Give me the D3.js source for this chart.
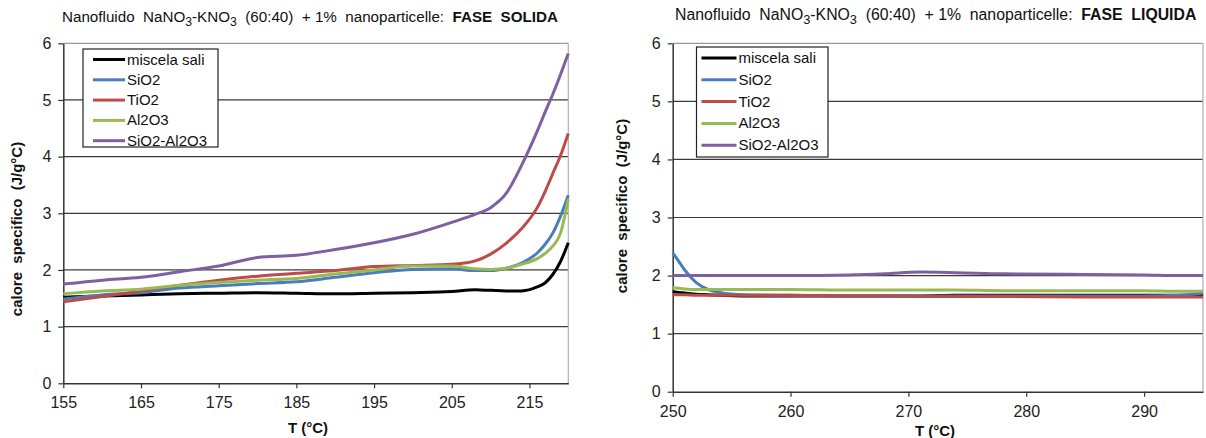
<!DOCTYPE html>
<html>
<head>
<meta charset="utf-8">
<script src="https://cdn.jsdelivr.net/npm/d3@7"></script>
<style>
	body{margin:0;background:#fff;}
	text{font-family:Arial,"Liberation Sans",sans-serif;}
</style>
</head>
<body>
<div id="fig"></div>
<script>
// series names and colours
var names = ["miscela sali","SiO2","TiO2","Al2O3","SiO2-Al2O3"];
var colors = ["#000000","#4a7ebb","#be4b48","#98b954","#7d60a0"];

// solid phase
var T_sol = [155,160,165,170,175,180,185,190,195,200,205,208,210,212,214,216,217,218,219,220];
var sol_sali  = [1.52,1.54,1.56,1.58,1.59,1.60,1.59,1.58,1.59,1.60,1.62,1.65,1.64,1.63,1.63,1.70,1.77,1.92,2.15,2.48];
var sol_SiO2  = [1.49,1.56,1.60,1.68,1.72,1.76,1.79,1.87,1.95,2.01,2.02,1.99,1.99,2.03,2.12,2.30,2.45,2.65,2.95,3.32];
var sol_TiO2  = [1.44,1.53,1.63,1.73,1.82,1.89,1.94,1.99,2.06,2.08,2.10,2.16,2.28,2.47,2.73,3.10,3.38,3.70,4.02,4.41];
var sol_Al2O3 = [1.58,1.63,1.66,1.73,1.78,1.82,1.85,1.93,2.00,2.07,2.07,2.02,2.01,2.03,2.10,2.20,2.29,2.42,2.65,3.25];
var sol_mix   = [1.75,1.82,1.87,1.97,2.07,2.22,2.26,2.36,2.48,2.63,2.84,2.98,3.10,3.35,3.85,4.45,4.78,5.10,5.45,5.82];

// liquid phase
var T_liq = [250,250.5,251,252,253,254,256,260,265,268,271,274,278,285,290,293,295];
var liq_sali  = [1.72,1.71,1.70,1.68,1.67,1.66,1.65,1.65,1.65,1.65,1.65,1.66,1.66,1.66,1.66,1.66,1.67];
var liq_SiO2  = [2.39,2.25,2.10,1.88,1.76,1.71,1.67,1.66,1.65,1.65,1.65,1.65,1.65,1.65,1.65,1.66,1.70];
var liq_TiO2  = [1.67,1.67,1.67,1.66,1.66,1.66,1.66,1.66,1.65,1.65,1.64,1.64,1.64,1.63,1.63,1.63,1.63];
var liq_Al2O3 = [1.79,1.78,1.77,1.76,1.76,1.76,1.76,1.76,1.75,1.75,1.75,1.75,1.74,1.74,1.74,1.73,1.73];
var liq_mix   = [2.00,2.00,2.00,2.00,2.00,2.00,2.00,2.00,2.01,2.03,2.06,2.05,2.03,2.02,2.01,2.00,2.00];

var yTicks = [0,1,2,3,4,5,6];
var xTicks_sol = [155,165,175,185,195,205,215];
var xTicks_liq = [250,260,270,280,290];

const W = 1206, H = 438;

const svg = d3.select("#fig").append("svg")
	.attr("width",W).attr("height",H)
	.attr("viewBox","0 0 "+W+" "+H);

function panel(cfg){
	const X = d3.scaleLinear().domain(cfg.xdom).range([cfg.x0,cfg.x1]);
	const Y = d3.scaleLinear().domain([0,6]).range([cfg.y0,cfg.y1]);
	const g = svg.append("g");

	// title
	const t = g.append("text")
		.attr("x",cfg.tx).attr("y",cfg.ty).attr("xml:space","preserve")
		.style("font-size",cfg.tfs+"px").style("fill","#111");
	t.append("tspan").text("Nanofluido  NaNO");
	t.append("tspan").text("3").attr("dy",4).style("font-size",(cfg.tfs-3)+"px");
	t.append("tspan").text("-KNO").attr("dy",-4);
	t.append("tspan").text("3").attr("dy",4).style("font-size",(cfg.tfs-3)+"px");
	t.append("tspan").text("  (60:40)  + 1%  nanoparticelle:  ").attr("dy",-4);
	t.append("tspan").text(cfg.phase).style("font-weight","bold");

	// gridlines
	g.selectAll(".grid").data(yTicks.filter(d=>d>0)).enter().append("line")
		.attr("x1",cfg.x0).attr("x2",cfg.x1)
		.attr("y1",d=>Y(d)).attr("y2",d=>Y(d))
		.style("stroke",d=>d==6?"#9a9a9a":"#3a3a3a").style("stroke-width",1.2);
	g.append("line")
		.attr("x1",cfg.x1).attr("x2",cfg.x1).attr("y1",Y(6)).attr("y2",Y(0))
		.style("stroke","#b0b0b0").style("stroke-width",1.2);

	// axes
	const ax = g.append("g").attr("transform","translate(0,"+Y(0)+")")
		.call(d3.axisBottom(X).tickValues(cfg.xticks).tickSize(5).tickSizeOuter(0).tickPadding(cfg.xpad));
	const ay = g.append("g").attr("transform","translate("+cfg.x0+",0)")
		.call(d3.axisLeft(Y).tickValues(yTicks).tickFormat(d3.format("d")).tickSize(5).tickSizeOuter(0).tickPadding(7));
	[ax,ay].forEach(a=>{
		a.select(".domain").style("stroke","#333").style("stroke-width",1.5);
		a.selectAll(".tick line").style("stroke","#333").style("stroke-width",1.2);
		a.selectAll(".tick text").style("font-size","16px").style("fill","#222")
			.style("font-family","Arial,'Liberation Sans',sans-serif");
	});

	// axis titles
	g.append("text")
		.attr("transform","translate("+cfg.ylx+","+cfg.yly+") rotate(-90)")
		.attr("text-anchor","middle").attr("xml:space","preserve")
		.style("font-size","15px").style("font-weight","bold").style("fill","#111")
		.text("calore  specifico  (J/g°C)");
	g.append("text")
		.attr("x",cfg.xlx).attr("y",cfg.xly)
		.attr("text-anchor","middle")
		.style("font-size","15px").style("font-weight","bold").style("fill","#111")
		.text("T (°C)");

	// lines
	const line = d3.line().x(d=>X(d[0])).y(d=>Y(d[1])).curve(d3.curveMonotoneX);
	cfg.series.forEach((s,i)=>{
		g.append("path")
			.attr("d",line(cfg.T.map((T,j)=>[T,s[j]])))
			.style("fill","none")
			.style("stroke",colors[i])
			.style("stroke-width",3)
			.style("stroke-linejoin","round");
	});

	// legend
	const L = cfg.leg;
	g.append("rect")
		.attr("x",L.x).attr("y",L.y).attr("width",L.w).attr("height",L.h)
		.style("fill","#fff").style("stroke","#222").style("stroke-width",1.2);
	names.forEach((n,i)=>{
		const yy = L.y + L.pad + i*L.dy;
		g.append("line")
			.attr("x1",L.x+L.l0).attr("x2",L.x+L.l1).attr("y1",yy).attr("y2",yy)
			.style("stroke",colors[i]).style("stroke-width",3);
		g.append("text")
			.attr("x",L.x+L.l1+2).attr("y",yy+5)
			.style("font-size","15px").style("fill","#111")
			.text(n);
	});
}

panel({
	xdom:[155,220], x0:63.3, x1:568.3, y0:383.3, y1:43.3,
	xticks:xTicks_sol, T:T_sol, xpad:8,
	series:[sol_sali,sol_SiO2,sol_TiO2,sol_Al2O3,sol_mix],
	phase:"FASE  SOLIDA", tx:62, ty:22, tfs:15.2,
	ylx:22, yly:229, xlx:308, xly:433,
	leg:{x:83,y:49,w:135,h:98,pad:10.5,dy:20.3,l0:10,l1:42}
});

panel({
	xdom:[250,295], x0:672.7, x1:1203, y0:391.7, y1:43.3,
	xticks:xTicks_liq, T:T_liq, xpad:8.6,
	series:[liq_sali,liq_SiO2,liq_TiO2,liq_Al2O3,liq_mix],
	phase:"FASE  LIQUIDA", tx:675, ty:20, tfs:15.8,
	ylx:627, yly:206, xlx:935, xly:436,
	leg:{x:696.5,y:47,w:131.5,h:110,pad:11,dy:21.8,l0:5,l1:40}
});
</script>
</body>
</html>
